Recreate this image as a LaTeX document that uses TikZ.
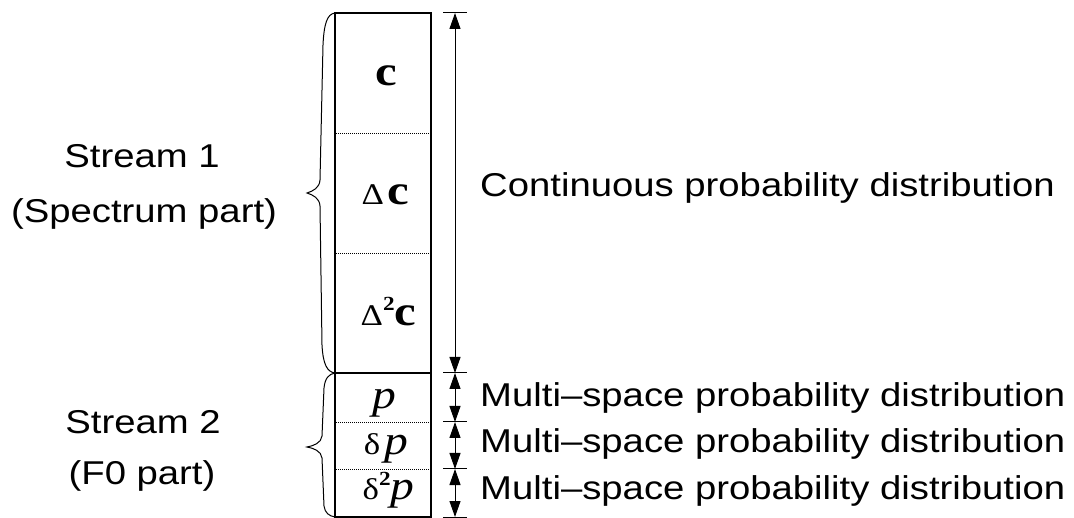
\documentclass[tikz,border=0pt]{standalone}
\usepackage{fontspec}
\setmainfont[FakeStretch=1.16]{Liberation Sans}
\newfontfamily\tms[FakeStretch=1.16]{Liberation Serif}
\usetikzlibrary{arrows.meta}
\begin{document}
\begin{tikzpicture}[x=1pt,y=-1pt,
  boxline/.style={line width=1.3pt},
  sepline/.style={line width=0.8pt, dash pattern=on 1pt off 1pt},
  dim/.style={line width=1pt, {Triangle[length=16pt,width=11pt]}-{Triangle[length=16pt,width=11pt]}},
  tickline/.style={line width=1pt},
  brace/.style={line width=1pt},
  lbl/.style={font=\fontsize{33}{38}\selectfont, inner sep=0pt},
  sym/.style={font=\tms, inner sep=0pt, anchor=base}]
\useasboundingbox (0,0) rectangle (1074,518);

% stacked box
\draw[boxline] (335,13) rectangle (431,517);
\draw[boxline] (335,373) -- (431,373);
\foreach \yy in {133,253,422,469}
  \draw[sepline] (336,\yy) -- (430,\yy);

% symbols in the box
\node[sym] (c) at (386,86) {\fontsize{42}{42}\selectfont\bfseries c};
\node[sym] (dc) at (385.5,205) {{\fontsize{30}{30}\selectfont Δ}\hspace{4pt}{\fontsize{42}{42}\selectfont\bfseries c}};
\node[sym] (ddc) at (388.5,326) {{\fontsize{30}{30}\selectfont Δ}\raisebox{15pt}{\fontsize{20}{20}\selectfont\bfseries 2}{\fontsize{42}{42}\selectfont\bfseries c}};
\node[sym] (p) at (384,409) {\fontsize{41}{41}\selectfont\itshape p};
\node[sym] (dp) at (386,455) {{\fontsize{30}{30}\selectfont δ}\hspace{4pt}{\fontsize{41}{41}\selectfont\itshape p}};
\node[sym] (ddp) at (388.5,500) {{\fontsize{30}{30}\selectfont δ}\raisebox{14pt}{\fontsize{20}{20}\selectfont\bfseries 2}{\fontsize{41}{41}\selectfont\itshape p}};

% dimension arrows
\coordinate (a0) at (455,13);
\coordinate (a1) at (455,373);
\coordinate (a2) at (455,422);
\coordinate (a3) at (455,469);
\coordinate (a4) at (455,517);
\foreach \a in {a0,a1,a2,a3,a4}
  \draw[tickline] ([xshift=-12pt]\a) -- ([xshift=12pt]\a);
\draw[dim] (a0) -- (a1);
\draw[dim] (a1) -- (a2);
\draw[dim] (a2) -- (a3);
\draw[dim] (a3) -- (a4);

% braces
\draw[brace] (335,13) .. controls (327,14) and (324,24) .. (323,45)
  -- (320,180) .. controls (319.5,188) and (313,191) .. (307,193)
  .. controls (313,195) and (319.5,198) .. (320,206)
  -- (322,345) .. controls (323,364) and (327,372) .. (335,373);
\draw[brace] (335,373) .. controls (329,374) and (325,378) .. (324,388)
  -- (322,436) .. controls (321.5,443) and (313,446) .. (307,447)
  .. controls (313,448) and (321.5,451) .. (322,458)
  -- (324,506) .. controls (325,513) and (329,516) .. (335,517);

% labels
\node[lbl, anchor=base] (s1) at (142,168) {Stream 1};
\node[lbl, anchor=base] (s1b) at (144,223) {(Spectrum part)};
\node[lbl, anchor=base] (s2) at (143,434) {Stream 2};
\node[lbl, anchor=base] (s2b) at (142,485) {(F0 part)};
\node[lbl, anchor=base west] (cont) at (480,197) {Continuous probability distribution};
\node[lbl, anchor=base west] (m1) at (480,407) {Multi–space probability distribution};
\node[lbl, anchor=base west] (m2) at (480,453) {Multi–space probability distribution};
\node[lbl, anchor=base west] (m3) at (480,499) {Multi–space probability distribution};
\end{tikzpicture}
\end{document}
